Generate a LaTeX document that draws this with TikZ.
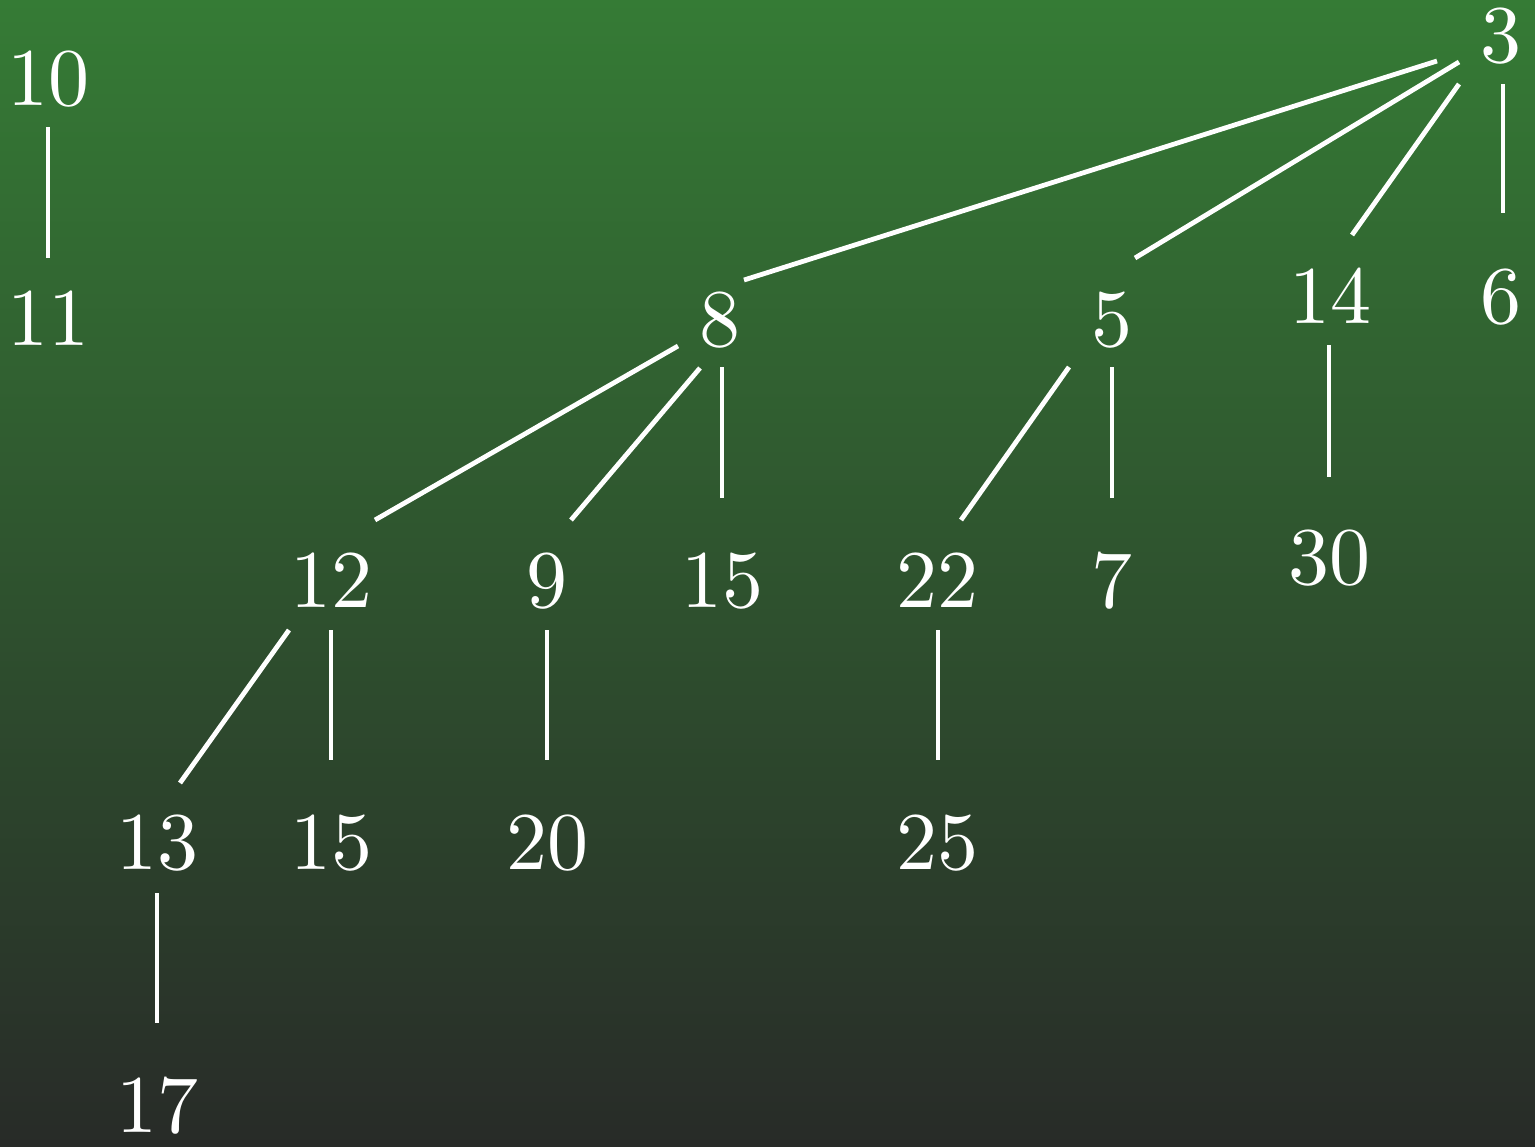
\documentclass[tikz,border=0pt]{standalone}
\definecolor{bgtop}{RGB}{53,123,53}
\definecolor{bgbot}{RGB}{40,43,40}
\font\numfnt=cmr10 at 41pt
\begin{document}
\begin{tikzpicture}[x=0.5pt,y=-0.5pt,
  num/.style={text=white,inner sep=0pt,font=\numfnt},
  edge/.style={draw=white,line width=2.4pt}]
\shade[top color=bgtop,bottom color=bgbot] (0,0) rectangle (1535,1146);
\useasboundingbox (0,0) rectangle (1535,1146);
% nodes
\node[num] (n10) at (48,79) {10};
\node[num] (n11) at (48,319) {11};
\node[num] (n3) at (1501,36) {3};
\node[num] (n8) at (720,320) {8};
\node[num] (n5) at (1112,320) {5};
\node[num] (n14) at (1330,297) {14};
\node[num] (n6) at (1501,297) {6};
\node[num] (n12) at (331,581) {12};
\node[num] (n9) at (547,581) {9};
\node[num] (n15a) at (722,581) {15};
\node[num] (n22) at (937,581) {22};
\node[num] (n7) at (1112,581) {7};
\node[num] (n30) at (1329,558) {30};
\node[num] (n13) at (157,843) {13};
\node[num] (n15b) at (331,843) {15};
\node[num] (n20) at (547,843) {20};
\node[num] (n25) at (937,843) {25};
\node[num] (n17) at (157,1106) {17};
% edges
\draw[edge] ([shift={(0,48)}]n10.center) -- ([shift={(0,-61)}]n11.center);
\draw[edge] ([shift={(-64,25)}]n3.center) -- ([shift={(24,-40)}]n8.center);
\draw[edge] ([shift={(-42,26)}]n3.center) -- ([shift={(23,-62)}]n5.center);
\draw[edge] ([shift={(-42,48)}]n3.center) -- ([shift={(22,-62)}]n14.center);
\draw[edge] ([shift={(2,48)}]n3.center) -- ([shift={(2,-84)}]n6.center);
\draw[edge] ([shift={(-42,26)}]n8.center) -- ([shift={(44,-61)}]n12.center);
\draw[edge] ([shift={(-20,48)}]n8.center) -- ([shift={(24,-61)}]n9.center);
\draw[edge] ([shift={(2,47)}]n8.center) -- ([shift={(0,-83)}]n15a.center);
\draw[edge] ([shift={(-43,47)}]n5.center) -- ([shift={(24,-61)}]n22.center);
\draw[edge] ([shift={(0,47)}]n5.center) -- ([shift={(0,-83)}]n7.center);
\draw[edge] ([shift={(-1,48)}]n14.center) -- ([shift={(0,-81)}]n30.center);
\draw[edge] ([shift={(-42,49)}]n12.center) -- ([shift={(23,-60)}]n13.center);
\draw[edge] ([shift={(0,49)}]n12.center) -- ([shift={(0,-83)}]n15b.center);
\draw[edge] ([shift={(0,49)}]n9.center) -- ([shift={(0,-83)}]n20.center);
\draw[edge] ([shift={(1,49)}]n22.center) -- ([shift={(1,-83)}]n25.center);
\draw[edge] ([shift={(0,50)}]n13.center) -- ([shift={(0,-83)}]n17.center);
\end{tikzpicture}
\end{document}
